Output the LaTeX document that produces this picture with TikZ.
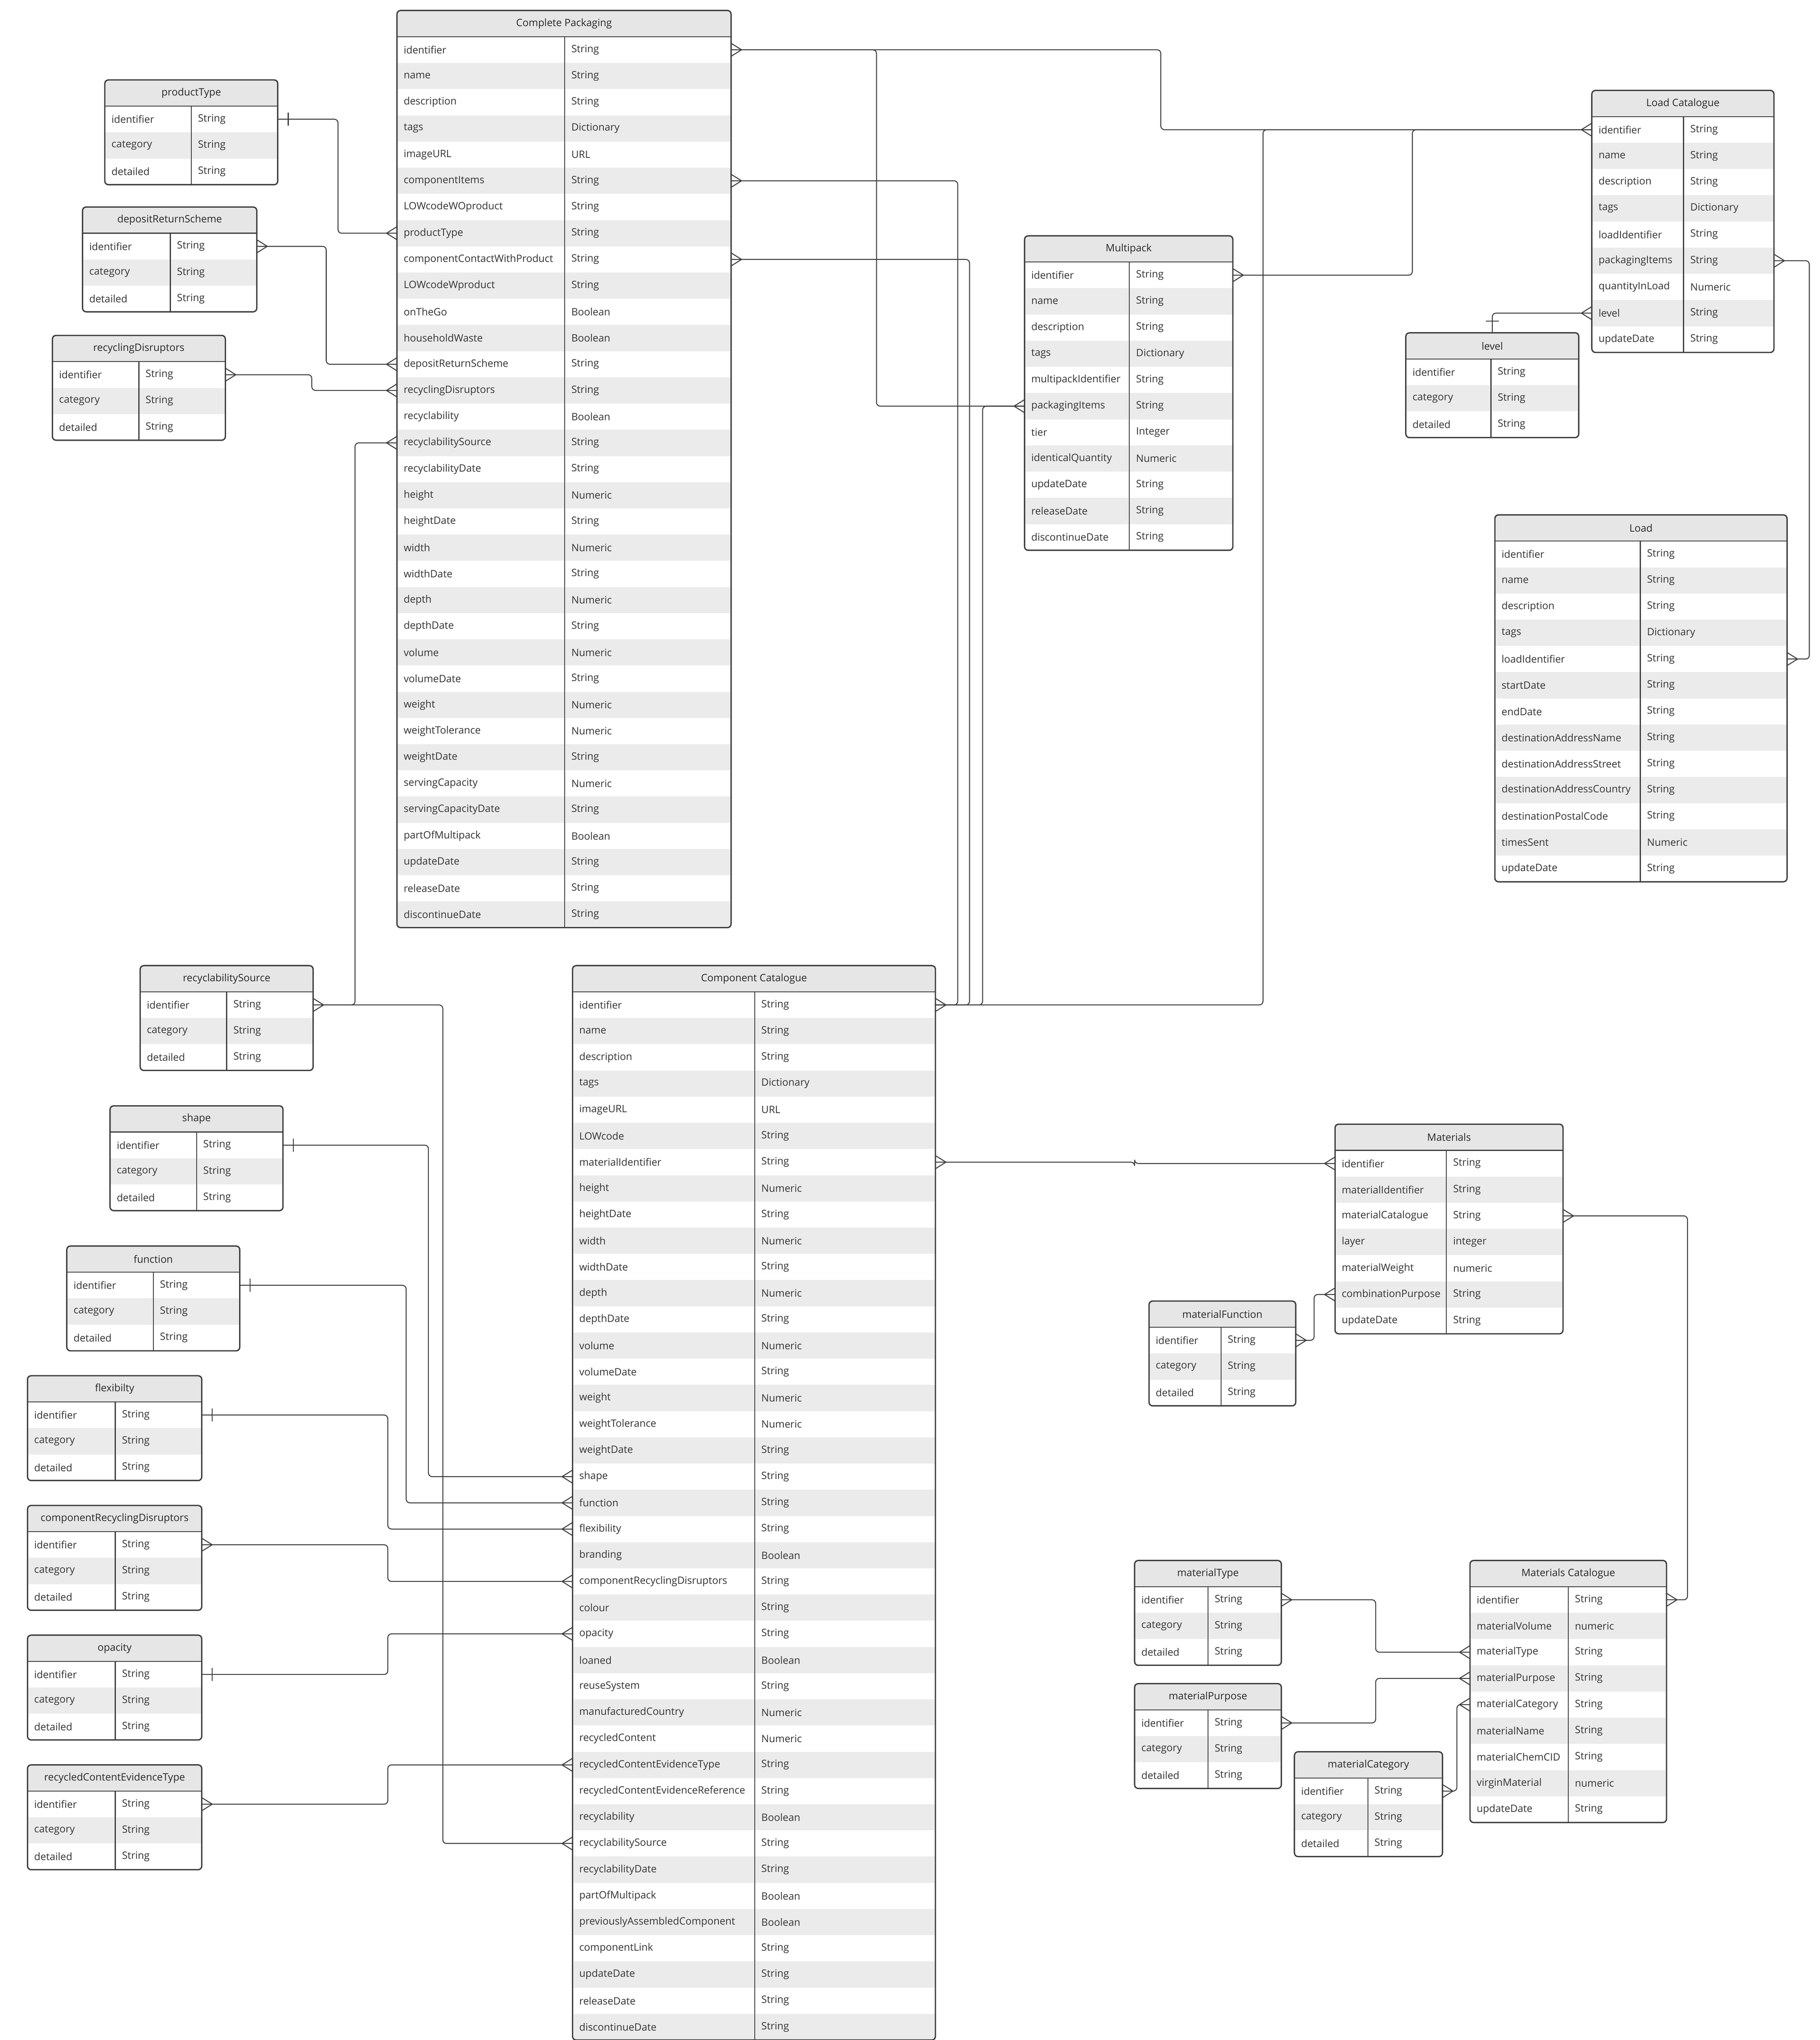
\documentclass[tikz,border=0pt]{standalone}
\usepackage{fontspec}
\setmainfont{Open Sans}
\usetikzlibrary{calc}
\definecolor{rowgray}{HTML}{EBEBEB}
\definecolor{hdrgray}{HTML}{E6E6E6}
\definecolor{edge}{HTML}{3A3A3A}
\tikzset{
  txt/.style={font=\fontsize{11}{13}\selectfont, text=black!80, inner sep=0pt},
  ttl/.style={font=\fontsize{11}{13}\selectfont, text=black!85, inner sep=0pt},
  conn/.style={draw=edge, line width=1pt, rounded corners=4},
  foot/.style={draw=edge, line width=1pt},
  frame/.style={draw=edge, line width=1.4pt, rounded corners=4}
}
\newcommand\ertab[8]{%
  \fill[hdrgray] (#2,#3) rectangle (#4,#3+20);
  \foreach [count=\i] \k/\v in {#8} {
    \pgfmathsetmacro\yy{#3+20*\i}
    \ifodd\i\relax\else\fill[rowgray] (#2,\yy) rectangle (#4,\yy+20);\fi
    \node[txt,anchor=west] (#1-\i-k) at (#2+5,\yy+10) {\k};
    \node[txt,anchor=west] (#1-\i-v) at (#5+5,\yy+10) {\v};
    \coordinate (#1-\i-l) at (#2,\yy+10);
    \coordinate (#1-\i-r) at (#4,\yy+10);
  }
  \node[ttl] (#1) at ({(#2+#4)/2},#3+10) {#7};
  \coordinate (#1-top) at ({(#2+#4)/2},#3);
  \draw[edge, line width=1pt] (#2,#3+20) -- (#4,#3+20);
  \draw[edge, line width=1pt] (#5,#3+20) -- (#5,#3+20+20*#6);
  \draw[frame] (#2,#3) rectangle (#4,#3+20+20*#6);
}
\newcommand\smalltab[6]{\ertab{#1}{#2}{#3}{#4}{#5}{3}{#6}{identifier/String,category/String,detailed/String}}
\newcommand\crowR[1]{\draw[foot] ($(#1)+(8,0)$) -- ($(#1)+(0,5)$) ($(#1)+(8,0)$) -- ($(#1)+(0,-5)$);}
\newcommand\crowL[1]{\draw[foot] ($(#1)+(-8,0)$) -- ($(#1)+(0,5)$) ($(#1)+(-8,0)$) -- ($(#1)+(0,-5)$);}
\newcommand\barR[1]{\draw[foot] ($(#1)+(8,-5)$) -- ($(#1)+(8,5)$);}
\begin{document}
\begin{tikzpicture}[x=0.05cm,y=-0.05cm]
\fill[white] (0,0) rectangle (1389,1557);
\useasboundingbox (0,0) rectangle (1389,1557);

\ertab{cp}{303}{8}{558}{431}{34}{Complete Packaging}{identifier/String,name/String,description/String,tags/Dictionary,imageURL/URL,componentItems/String,LOWcodeWOproduct/String,productType/String,componentContactWithProduct/String,LOWcodeWproduct/String,onTheGo/Boolean,householdWaste/Boolean,depositReturnScheme/String,recyclingDisruptors/String,recyclability/Boolean,recyclabilitySource/String,recyclabilityDate/String,height/Numeric,heightDate/String,width/Numeric,widthDate/String,depth/Numeric,depthDate/String,volume/Numeric,volumeDate/String,weight/Numeric,weightTolerance/Numeric,weightDate/String,servingCapacity/Numeric,servingCapacityDate/String,partOfMultipack/Boolean,updateDate/String,releaseDate/String,discontinueDate/String}

\smalltab{pt}{80}{61}{212}{146}{productType}
\smalltab{drs}{63}{158}{196}{130}{depositReturnScheme}
\smalltab{rd}{40}{256}{172}{106}{recyclingDisruptors}
\smalltab{rs}{107}{737}{239}{173}{recyclabilitySource}
\smalltab{shape}{84}{844}{216}{150}{shape}
\smalltab{fn}{51}{951}{183}{117}{function}
\smalltab{flex}{21}{1050}{154}{88}{flexibilty}
\smalltab{crd}{21}{1149}{154}{88}{componentRecyclingDisruptors}
\smalltab{opa}{21}{1248}{154}{88}{opacity}
\smalltab{rcet}{21}{1347}{154}{88}{recycledContentEvidenceType}

\ertab{cc}{437}{737}{714}{576}{40}{Component Catalogue}{identifier/String,name/String,description/String,tags/Dictionary,imageURL/URL,LOWcode/String,materialIdentifier/String,height/Numeric,heightDate/String,width/Numeric,widthDate/String,depth/Numeric,depthDate/String,volume/Numeric,volumeDate/String,weight/Numeric,weightTolerance/Numeric,weightDate/String,shape/String,function/String,flexibility/String,branding/Boolean,componentRecyclingDisruptors/String,colour/String,opacity/String,loaned/Boolean,reuseSystem/String,manufacturedCountry/Numeric,recycledContent/Numeric,recycledContentEvidenceType/String,recycledContentEvidenceReference/String,recyclability/Boolean,recyclabilitySource/String,recyclabilityDate/String,partOfMultipack/Boolean,previouslyAssembledComponent/Boolean,componentLink/String,updateDate/String,releaseDate/String,discontinueDate/String}

\ertab{mp}{782}{180}{941}{862}{11}{Multipack}{identifier/String,name/String,description/String,tags/Dictionary,multipackIdentifier/String,packagingItems/String,tier/Integer,identicalQuantity/Numeric,updateDate/String,releaseDate/String,discontinueDate/String}

\ertab{lc}{1215}{69}{1354}{1285}{9}{Load Catalogue}{identifier/String,name/String,description/String,tags/Dictionary,loadIdentifier/String,packagingItems/String,quantityInLoad/Numeric,level/String,updateDate/String}

\smalltab{level}{1073}{254}{1205}{1138}{level}

\ertab{load}{1141}{393}{1364}{1252}{13}{Load}{identifier/String,name/String,description/String,tags/Dictionary,loadIdentifier/String,startDate/String,endDate/String,destinationAddressName/String,destinationAddressStreet/String,destinationAddressCountry/String,destinationPostalCode/String,timesSent/Numeric,updateDate/String}

\ertab{mat}{1019}{858}{1193}{1104}{7}{Materials}{identifier/String,materialIdentifier/String,materialCatalogue/String,layer/integer,materialWeight/numeric,combinationPurpose/String,updateDate/String}

\smalltab{mf}{877}{993}{989}{932}{materialFunction}
\smalltab{mt}{866}{1191}{978}{922}{materialType}
\smalltab{mpur}{866}{1285}{978}{922}{materialPurpose}
\smalltab{mc}{988}{1337}{1101}{1044}{materialCategory}

\ertab{mcat}{1122}{1191}{1272}{1197}{9}{Materials Catalogue}{identifier/String,materialVolume/numeric,materialType/String,materialPurpose/String,materialCategory/String,materialName/String,materialChemCID/String,virginMaterial/numeric,updateDate/String}

% connectors
\draw[conn] (cp-1-r) -- ++(328,0) |- (lc-1-l);
\draw[conn] (cp-1-r) -- ++(111,0) |- (mp-6-l);
\draw[conn] (cp-6-r) -- ++(173,0) |- (cc-1-r);
\draw[conn] (cp-9-r) -- ++(182,0) |- (cc-1-r);
\draw[conn] (mp-6-l) -- ++(-32,0) |- (cc-1-r);
\draw[conn] (cc-1-r) -- ++(250,0) |- (lc-1-l);
\draw[conn] (mp-1-r) -- ++(137,0) |- (lc-1-l);
\draw[conn] (lc-8-l) -| (level-top);
\draw[conn] (lc-6-r) -- ++(27,0) |- (load-5-r);
\draw[conn] (pt-1-r) -- ++(46,0) |- (cp-8-l);
\draw[conn] (drs-1-r) -- ++(53,0) |- (cp-13-l);
\draw[conn] (rd-1-r) -- ++(66,0) |- (cp-14-l);
\draw[conn] (rs-1-r) -- ++(32,0) |- (cp-16-l);
\draw[conn] (rs-1-r) -- ++(99,0) |- (cc-33-l);
\draw[conn] (shape-1-r) -- ++(111,0) |- (cc-19-l);
\draw[conn] (fn-1-r) -- ++(127,0) |- (cc-20-l);
\draw[conn] (flex-1-r) -- ++(142,0) |- (cc-21-l);
\draw[conn] (crd-1-r) -- ++(142,0) |- (cc-23-l);
\draw[conn] (opa-1-r) -- ++(142,0) |- (cc-25-l);
\draw[conn] (rcet-1-r) -- ++(142,0) |- (cc-30-l);
\draw[conn] (cc-7-r) -- ++(152,0) |- (mat-1-l);
\draw[conn] (mf-1-r) -- ++(14,0) |- (mat-6-l);
\draw[conn] (mat-3-r) -- ++(95,0) |- (mcat-1-r);
\draw[conn] (mt-1-r) -- ++(72,0) |- (mcat-3-l);
\draw[conn] (mpur-1-r) -- ++(72,0) |- (mcat-4-l);
\draw[conn] (mc-1-r) -- ++(11,0) |- (mcat-5-l);

% line ends
\crowR{cp-1-r} \crowL{lc-1-l} \crowL{mp-6-l} \crowR{cp-6-r} \crowR{cc-1-r}
\crowR{cp-9-r} \crowR{mp-1-r} \crowL{lc-8-l} \crowR{lc-6-r} \crowR{load-5-r}
\barR{pt-1-r} \crowL{cp-8-l} \crowR{drs-1-r} \crowL{cp-13-l} \crowR{rd-1-r}
\crowL{cp-14-l} \crowR{rs-1-r} \crowL{cp-16-l} \crowL{cc-33-l}
\barR{shape-1-r} \crowL{cc-19-l} \barR{fn-1-r} \crowL{cc-20-l}
\barR{flex-1-r} \crowL{cc-21-l} \crowR{crd-1-r} \crowL{cc-23-l}
\barR{opa-1-r} \crowL{cc-25-l} \crowR{rcet-1-r} \crowL{cc-30-l}
\crowR{cc-7-r} \crowL{mat-1-l} \crowR{mf-1-r} \crowL{mat-6-l}
\crowR{mat-3-r} \crowR{mcat-1-r} \crowR{mt-1-r} \crowL{mcat-3-l}
\crowR{mpur-1-r} \crowL{mcat-4-l} \crowR{mc-1-r} \crowL{mcat-5-l}
\draw[foot] ($(level-top)+(-5,-9)$) -- ($(level-top)+(5,-9)$);
\end{tikzpicture}
\end{document}
